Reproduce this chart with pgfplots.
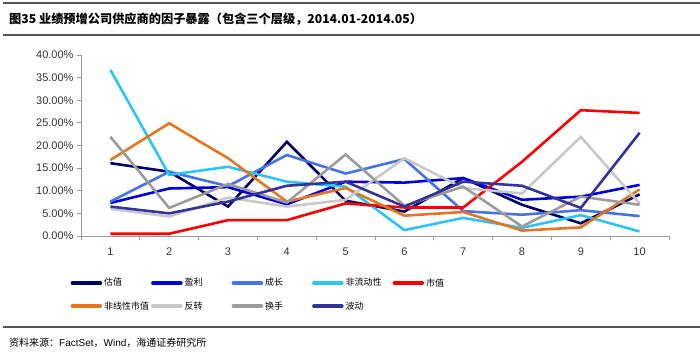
\documentclass[border=0pt]{standalone}
\usepackage{fontspec}
\setmainfont{Liberation Sans}
\newfontfamily\cjk{Noto Sans CJK SC}
\usepackage{pgfplots}
\pgfplotsset{compat=1.18}
\definecolor{cA}{HTML}{000066}
\definecolor{cB}{HTML}{0000E6}
\definecolor{cC}{HTML}{4472E8}
\definecolor{cD}{HTML}{29C5F6}
\definecolor{cE}{HTML}{FF0000}
\definecolor{cF}{HTML}{E6761E}
\definecolor{cG}{HTML}{C8C8C8}
\definecolor{cH}{HTML}{9C9C9C}
\definecolor{cI}{HTML}{333399}
\definecolor{rule}{HTML}{555555}
\begin{document}
\begin{tikzpicture}[x=1pt,y=1pt]
\path[use as bounding box] (0,0) rectangle (700,353);
\draw[line width=2pt, rule] (3,350) -- (700,350);
\draw[line width=1.2pt, rule] (3,318) -- (700,318);
\draw[line width=1.5pt, rule] (3,26) -- (700,26);
\node[anchor=west, inner sep=0pt] at (9,334) {\cjk\bfseries\fontsize{12.2}{14}\selectfont 图35 业绩预增公司供应商的因子暴露（包含三个层级，2014.01-2014.05）};
\node[anchor=west, inner sep=0pt] at (9,10) {\cjk\fontsize{10}{12}\selectfont 资料来源：{\normalfont FactSet}，{\normalfont Wind}，海通证券研究所};
\begin{axis}[
  at={(81pt,117pt)}, anchor=south west,
  scale only axis, width=588pt, height=181pt,
  xmin=0.5, xmax=10.5, ymin=0, ymax=40,
  axis x line*=bottom, axis y line*=left,
  axis line style={draw=gray!80, line width=0.8pt},
  xtick={1,...,10}, major x tick style={draw=none},
  minor xtick={0.5,1.5,...,10.5},
  minor tick length=4pt, major tick length=4pt,
  tick align=outside,
  tick style={draw=gray!80, line width=0.8pt},
  ytick={0,5,...,40},
  yticklabels={0.00\%,5.00\%,10.00\%,15.00\%,20.00\%,25.00\%,30.00\%,35.00\%,40.00\%},
  tick label style={font=\fontsize{11}{12}\selectfont, text=black!80},
  /pgf/number format/assume math mode=true,
  xticklabel style={yshift=-4pt},
  legend columns=5,
  legend style={draw=none, at={(-0.018,-0.222)}, anchor=north west,
    font=\cjk\fontsize{9}{10}\selectfont, row sep=10pt,
    /tikz/every even column/.append style={text width=45pt},
    inner sep=0pt},
  legend cell align=left,
  legend image code/.code={\draw[#1, line width=3.5pt, line cap=round] (0pt,0pt) -- (28pt,0pt);},
  every axis plot/.append style={line width=2.6pt, no markers},
]
\addplot[cA] coordinates {(1,16.1)(2,14.2)(3,6.5)(4,20.8)(5,7.8)(6,5.4)(7,12.8)(8,6.9)(9,2.8)(10,9.2)};
\addplot[cB] coordinates {(1,7.3)(2,10.5)(3,10.8)(4,7.0)(5,12.0)(6,11.8)(7,12.8)(8,8.0)(9,8.7)(10,11.3)};
\addplot[cC] coordinates {(1,7.6)(2,14.2)(3,11.0)(4,17.9)(5,13.8)(6,17.0)(7,5.5)(8,4.7)(9,5.7)(10,4.4)};
\addplot[cD] coordinates {(1,36.7)(2,13.5)(3,15.3)(4,12.0)(5,10.9)(6,1.3)(7,4.0)(8,1.8)(9,4.6)(10,1.0)};
\addplot[cE] coordinates {(1,0.5)(2,0.5)(3,3.5)(4,3.5)(5,7.2)(6,6.3)(7,6.3)(8,16.4)(9,27.8)(10,27.2)};
\addplot[cF] coordinates {(1,16.8)(2,24.9)(3,17.2)(4,7.6)(5,10.6)(6,4.5)(7,5.3)(8,1.2)(9,1.9)(10,10.3)};
\addplot[cG] coordinates {(1,6.0)(2,4.3)(3,8.5)(4,6.5)(5,8.0)(6,17.2)(7,10.6)(8,9.4)(9,21.9)(10,7.2)};
\addplot[cH] coordinates {(1,21.9)(2,6.2)(3,11.5)(4,7.4)(5,18.0)(6,6.7)(7,10.9)(8,2.1)(9,8.7)(10,6.9)};
\addplot[cI] coordinates {(1,6.5)(2,5.0)(3,7.6)(4,11.1)(5,12.0)(6,6.5)(7,12.0)(8,11.1)(9,6.2)(10,22.8)};
\legend{估值,盈利,成长,非流动性,市值,非线性市值,反转,换手,波动}
\end{axis}
\end{tikzpicture}
\end{document}
